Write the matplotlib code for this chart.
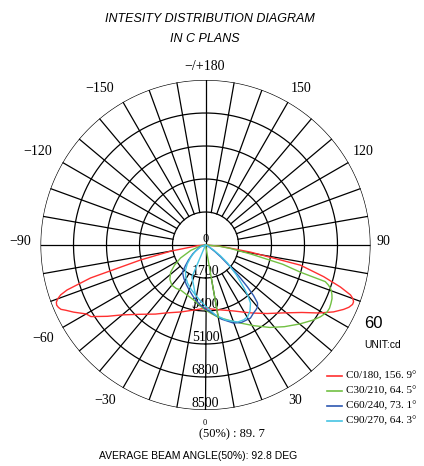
import numpy as np
import matplotlib
matplotlib.use('Agg')
import matplotlib.pyplot as plt

# ---- data (gamma in deg, intensity in cd) ----
rings = [1700, 3400, 5100, 6800, 8500]

c0_gamma = [-90, -85, -80, -77, -74, -72, -71, -70, -69, -68, -67, -66, -65, -63, -60, -58, -54, -50,
            -43, -36, -30, -20, -10, 0, 10, 23, 30, 35, 42, 49, 55, 59, 62.4, 65, 66.5, 68, 69, 70, 71,
            72.7, 75, 78, 81, 85, 90]
c0_int = [0, 400, 1800, 3440, 6160, 7500, 7890, 8100, 8230, 8270, 8230, 8150, 7950, 7620, 7100, 6960,
          6250, 5600, 4880, 4400, 4040, 3670, 3400, 3260, 3380, 3690, 4000, 4280, 4750, 5330, 6060,
          6800, 7440, 7850, 8050, 8170, 8170, 8080, 7900, 7280, 6300, 5000, 2350, 800, 0]

c30_gamma = [-90, -80, -70, -62.5, -57, -52, -46, -40, -34, -29, -20, -12, -5, 0,
             5, 10, 17, 24, 31, 38, 44, 50, 55, 58, 61, 63, 65, 67, 68.5, 70, 71, 72, 73, 74, 76,
             78.7, 82, 85, 90]
c30_int = [0, 250, 800, 1450, 1900, 2280, 2550, 2700, 2700, 2650, 2750, 2900, 3150, 3350,
           3550, 3780, 4050, 4400, 4850, 5390, 5850, 6330, 6750, 6980, 7150, 7170, 7130, 7080, 7000,
           6900, 6800, 6650, 6450, 5100, 4100, 2400, 1300, 700, 0]

c60_gamma = [-90, -70, -60, -55, -48.6, -44, -40.4, -33, -25.4, -19, -13, -6, 0, 4.3, 12, 19.7, 25,
             31.6, 35.2, 38, 40, 41.9, 43.5, 45, 47, 48.7, 52, 55, 65, 90]
c60_int = [0, 300, 550, 800, 1170, 1500, 1830, 2050, 2280, 2500, 2750, 3050, 3300, 3460, 3900, 4270,
           4400, 4420, 4290, 4230, 4170, 4010, 3600, 3060, 2350, 1715, 1000, 600, 150, 0]

c90_gamma = [-90, -70, -58, -50, -44, -38.7, -32, -25.3, -18, -11.3, -5, 0, 8.1, 15, 22.6, 27, 30.3,
             34, 37.8, 40, 42.1, 46, 50.7, 54, 58, 70, 90]
c90_int = [0, 250, 650, 1000, 1350, 1650, 1930, 2170, 2400, 2630, 2900, 3150, 3640, 4000, 4300, 4330,
           4290, 4100, 3780, 3400, 2920, 2200, 1470, 950, 500, 100, 0]

# stray segments drawn by the original software
c30_stub_gamma = [10, 10]
c30_stub_int = [0, 3780]
c90_stub_gamma = [-23, -23, -11.3]
c90_stub_int = [0, 1790, 2630]

legend_labels = ['C0/180, 156. 9°', 'C30/210, 64. 5°', 'C60/240, 73. 1°', 'C90/270, 64. 3°']
colors = ['#ff3030', '#72c043', '#2d58b0', '#45c3e3']

W, H = 424, 466
fig = plt.figure(figsize=(W / 100, H / 100), dpi=100)
cx, cy, R = 205.5, 245, 165
ax = fig.add_axes([(cx - R) / W, (H - cy - R) / H, 2 * R / W, 2 * R / H], projection='polar')
ax.set_theta_zero_location('S')
ax.set_theta_direction(1)
ax.set_ylim(0, 8500)
ax.axis('off')

# grid
th = np.linspace(0, 2 * np.pi, 400)
for r in rings:
    ax.plot(th, np.full_like(th, r), color='black', lw=0.9, zorder=1)
for a in range(0, 360, 10):
    r0 = 0 if a % 90 == 0 else rings[0]
    ax.plot([np.radians(a)] * 2, [r0, rings[-1]], color='black', lw=0.9, zorder=1)

# curves
series = [(c0_gamma, c0_int), (c30_gamma, c30_int), (c60_gamma, c60_int), (c90_gamma, c90_int)]
for (g, i), col in zip(series, colors):
    ax.plot(np.radians(g), i, color=col, lw=1.0, zorder=3)
ax.plot(np.radians(c30_stub_gamma), c30_stub_int, color=colors[1], lw=1.0, zorder=3)
ax.plot(np.radians(c90_stub_gamma), c90_stub_int, color=colors[3], lw=1.0, zorder=3)

# radial labels
serif = 'Liberation Serif'
ax.text(0, 0, '0', ha='center', va='bottom', fontsize=9, family=serif)
for r in rings:
    ax.text(0, r - 330, str(r), ha='center', va='center', fontsize=10, family=serif, zorder=2)


def ftext(x, y, s, **kw):
    fig.text(x / W, 1 - y / H, s, **kw)


# angle labels
ang = [('−/+180', 205, 67), ('−150', 100, 89), ('150', 301, 89), ('−120', 38, 152),
       ('120', 363, 152), ('−90', 20, 242), ('90', 383, 242), ('−60', 43, 338),
       ('−30', 105, 400), ('30', 295, 400)]
for s, x, y in ang:
    ftext(x, y, s, ha='center', va='center', fontsize=10, family=serif)
ftext(373, 323, '60', ha='center', va='center', fontsize=12, family='Liberation Sans')
ftext(383, 345, 'UNIT:cd', ha='center', va='center', fontsize=7.5, family='Liberation Sans')

# title
ftext(210, 19, 'INTESITY DISTRIBUTION DIAGRAM', ha='center', va='center', fontsize=9,
      family='Liberation Sans', style='italic')
ftext(205, 39, 'IN C PLANS', ha='center', va='center', fontsize=9,
      family='Liberation Sans', style='italic')

# legend
for k, (lab, col) in enumerate(zip(legend_labels, colors)):
    y = 376 + k * 15
    fig.add_artist(plt.Line2D([327 / W, 342 / W], [1 - y / H] * 2, color=col, lw=1.2))
    ftext(346, y, lab, ha='left', va='center', fontsize=8, family=serif)

# bottom notes
ftext(205, 423, '0', ha='center', va='center', fontsize=6, family=serif)
ftext(199, 434, '(50%) : 89. 7', ha='left', va='center', fontsize=9, family=serif)
ftext(198, 456, 'AVERAGE BEAM ANGLE(50%): 92.8 DEG', ha='center', va='center', fontsize=7.5,
      family='Liberation Sans')

fig.savefig('out.png', dpi=100)
